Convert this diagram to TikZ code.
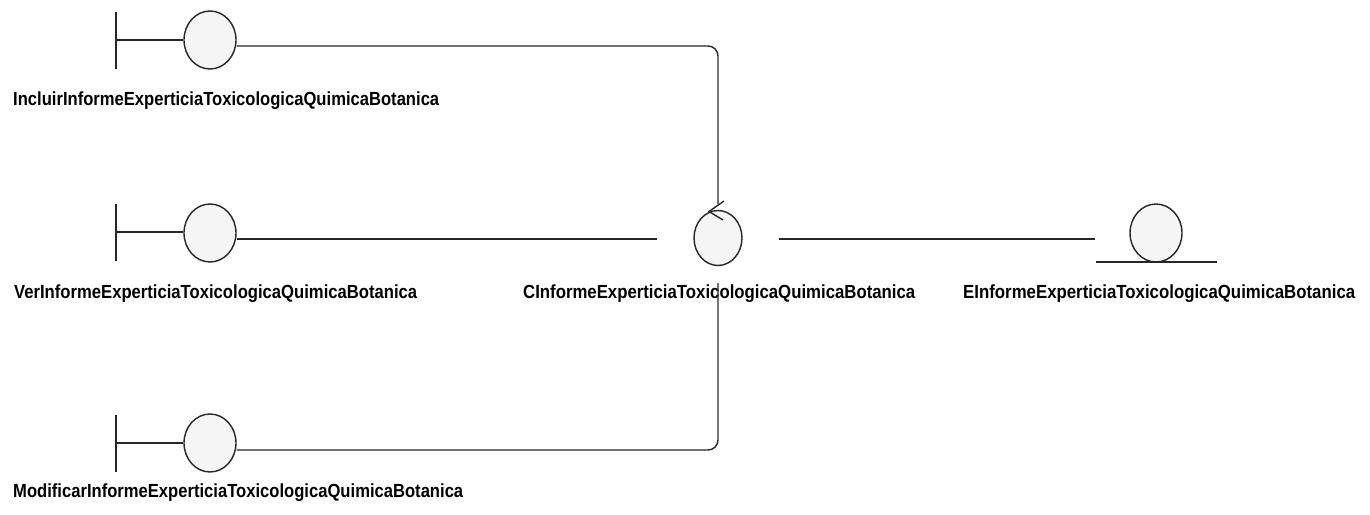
\documentclass[tikz,border=0pt]{standalone}
\usepackage{fontspec}
\setmainfont{Liberation Sans}
\usetikzlibrary{shapes.geometric}
% label text stretched to a given width, keeping its height
\newcommand\umllabel[2]{\resizebox{#1pt}{\height}{\fontsize{19}{19}\selectfont\bfseries #2}}
\begin{document}
\begin{tikzpicture}[x=1pt,y=-1pt,
  umlline/.style={line width=1.4pt,draw=black!85},
  icon/.style={ellipse,draw=black!85,line width=1.4pt,fill=black!4,
    minimum width=52pt,minimum height=58pt,inner sep=0pt},
  ctlicon/.style={icon,minimum width=48pt,minimum height=55pt},
  lbl/.style={anchor=base west,inner sep=0pt}]
\useasboundingbox (0,0) rectangle (1370,514);

% boundary objects
\node[icon] (b1) at (210,40) {};
\node[icon] (b2) at (210,233) {};
\node[icon] (b3) at (210,443) {};
\foreach \n/\y in {b1/40,b2/232,b3/443}{
  \coordinate (\n bar) at (116,\y);
  \draw[umlline] (116,\y-28) -- (116,\y+29);
  \draw[umlline] (\n bar) -- (\n bar -| \n.west);
}

% control object with its arrow
\node[ctlicon] (ctl) at (718,238) {};
\draw[umlline,line join=miter] (724,201) -- (709,211.5) -- (723,220);

% entity object
\node[icon] (ent) at (1156,233) {};
\coordinate (entl) at (1096,262);
\coordinate (entr) at (1217,262);
\draw[umlline] (entl) -- (entr);

% labels
\node[lbl] (l1) at (13,105) {\umllabel{426}{IncluirInformeExperticiaToxicologicaQuimicaBotanica}};
\node[lbl] (l2) at (14,298) {\umllabel{403}{VerInformeExperticiaToxicologicaQuimicaBotanica}};
\node[lbl] (l3) at (13,497) {\umllabel{450}{ModificarInformeExperticiaToxicologicaQuimicaBotanica}};
\node[lbl] (l4) at (523,298) {\umllabel{392}{CInformeExperticiaToxicologicaQuimicaBotanica}};
\node[lbl] (l5) at (963,298) {\umllabel{392}{EInformeExperticiaToxicologicaQuimicaBotanica}};

% connector ends near the control and entity
\coordinate (ctop) at (718,204);
\coordinate (cbot) at (718,283);
\coordinate (cleft) at (657,239);
\coordinate (cright) at (779,239);
\coordinate (eleft) at (1095,239);

% connectors
\draw[umlline,rounded corners=10pt] ([yshift=-6pt]b1.east) -| (ctop);
\draw[umlline] ([yshift=-6pt]b2.east) -- (cleft);
\draw[umlline,rounded corners=10pt] ([yshift=-7pt]b3.east) -| (cbot);
\draw[umlline] (cright) -- (eleft);
\end{tikzpicture}
\end{document}
